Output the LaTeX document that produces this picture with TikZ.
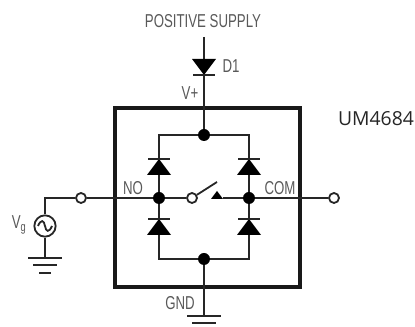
\documentclass[tikz,border=0pt]{standalone}
\usepackage{fontspec}
\setmainfont{Liberation Sans}
\newfontfamily\rotulofont{Open Sans}
\usetikzlibrary{arrows.meta}
\newcommand{\fio}{\draw[line width=1.35pt,black!85]}
\tikzset{
  ponto/.style={circle,fill=black,inner sep=0pt,minimum size=9pt},
  borne/.style={circle,draw=black!85,fill=white,line width=1.35pt,inner sep=0pt,minimum size=7.5pt},
  rotulo/.style={text=black!65,font=\fontsize{14}{16}\selectfont,inner sep=0pt,xscale=0.71},
  diodo/.pic={
    \fill[black] (-12,16) -- (12,16) -- (0,0) -- cycle;
    \draw[line width=1.35pt,black!85] (-11,0) -- (11,0);
  },
  terra/.pic={
    \draw[line width=1.35pt,black!85] (-17,0) -- (17,0);
    \draw[line width=1.35pt,black!85] (-12,7) -- (12,7);
    \draw[line width=1.35pt,black!85] (-6,15) -- (6,15);
  }
}

\begin{document}
\begin{tikzpicture}[x=0.75pt,y=-0.75pt]
      \useasboundingbox (0,0) rectangle (415,327);

      % caixa
      \node(caixa) [draw=black!90,line width=2.4pt,inner sep=0pt,minimum width=138.75pt,minimum height=134.25pt] at (207.5,197.5) {};

      % alimentação
      \coordinate(vcc) at (204,37);
      \node(topo) [ponto] at (204,135) {};
      \fio(vcc) -- (topo);
      \pic at (204,75) [yscale=-1] {diodo};

      % pontes
      \node(no)    [ponto] at (159,198) {};
      \node(com)   [ponto] at (249,198) {};
      \node(baixo) [ponto] at (204,259) {};
      \coordinate(railTE) at (159,135);
      \coordinate(railTD) at (249,135);
      \coordinate(railBE) at (159,259);
      \coordinate(railBD) at (249,259);
      \fio(topo) -- (railTE) -- (no);
      \fio(topo) -- (railTD) -- (com);
      \fio(baixo) -- (railBE) -- (no);
      \fio(baixo) -- (railBD) -- (com);
      \pic at (159,159) {diodo};
      \pic at (249,159) {diodo};
      \pic at (159,219) {diodo};
      \pic at (249,219) {diodo};

      % entrada
      \node(fonte) [circle,draw=black!85,line width=1.35pt,fill=white,inner sep=0pt,minimum size=16pt] at (45,226) {};
      \coordinate(canto) at (45,198);
      \coordinate(gnda) at (45,258);
      \node(entrada) [borne] at (81,198) {};
      \fio(fonte) -- (canto) -- (entrada);
      \fio(fonte) -- (gnda);
      \fio(entrada) -- (no);
      \draw[line width=1.35pt,black!85] (38,226) .. controls (41,219) and (44,220) .. (45,226) .. controls (46,232) and (49,233) .. (52,226);
      \pic at (45,258) {terra};

      % chave
      \node(sw) [borne] at (192,198) {};
      \coordinate(braco) at (217,182);
      \coordinate(pivo) at (223,198);
      \fio(no) -- (sw);
      \fio(sw) -- (braco);
      \fill[black] (211,199) -- (223,199) -- (217,191) -- cycle;
      \fio(pivo) -- (com);

      % saída
      \node(saida) [borne] at (334,198) {};
      \fio(com) -- (saida);

      % terra
      \coordinate(gndb) at (204,316);
      \fio(baixo) -- (gndb);
      \pic at (204,316) {terra};

      % textos
      \node(tsup) [rotulo] at (203,21)  {POSITIVE SUPPLY};
      \node(td1)  [rotulo] at (231,66)  {D1};
      \node(tv)   [rotulo] at (190,93)  {V+};
      \node(tno)  [rotulo] at (133,188) {NO};
      \node(tcom) [rotulo] at (280,188) {COM};
      \node(tvg)  [rotulo] at (19,225)  {V\textsubscript{g}};
      \node(tgnd) [rotulo] at (180,303) {GND};
      \node(tum)  [text=black!85,inner sep=0pt,font=\rotulofont\fontsize{14.5}{17}\selectfont] at (376,119) {UM4684};
\end{tikzpicture}
\end{document}
